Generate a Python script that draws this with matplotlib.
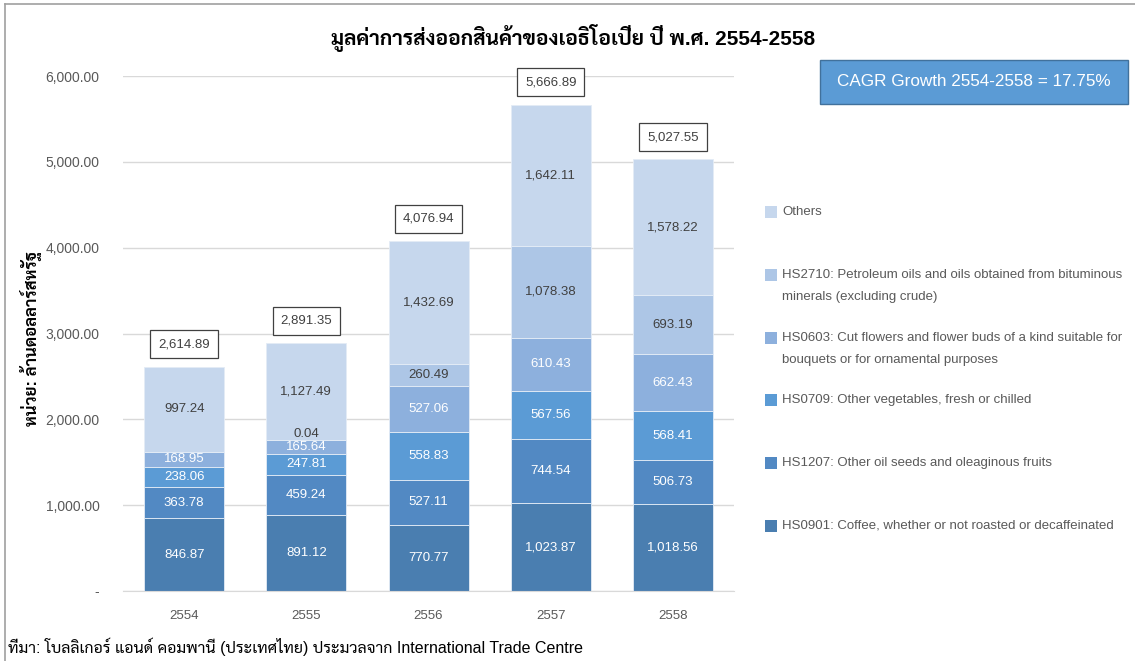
import matplotlib
matplotlib.use('Agg')
import matplotlib.pyplot as plt
from matplotlib.lines import Line2D
from matplotlib.patches import Rectangle
import numpy as np

plt.rcParams['font.family'] = ['Liberation Sans', 'Sarabun', 'Noto Sans Thai Looped', 'DejaVu Sans']

years = ['2554', '2555', '2556', '2557', '2558']
hs0901 = [846.87, 891.12, 770.77, 1023.87, 1018.56]
hs1207 = [363.78, 459.24, 527.11, 744.54, 506.73]
hs0709 = [238.06, 247.81, 558.83, 567.56, 568.41]
hs0603 = [168.95, 165.64, 527.06, 610.43, 662.43]
hs2710 = [0.0, 0.04, 260.49, 1078.38, 693.19]
others = [997.24, 1127.49, 1432.69, 1642.11, 1578.22]
totals = [2614.89, 2891.35, 4076.94, 5666.89, 5027.55]

series = [
    ('HS0901: Coffee, whether or not roasted or decaffeinated', hs0901, '#4a7eb0', 'white'),
    ('HS1207: Other oil seeds and oleaginous fruits', hs1207, '#5289c3', 'white'),
    ('HS0709: Other vegetables, fresh or chilled', hs0709, '#5b9bd5', 'white'),
    ('HS0603: Cut flowers and flower buds of a kind suitable for\nbouquets or for ornamental purposes', hs0603, '#8db0dd', 'white'),
    ('HS2710: Petroleum oils and oils obtained from bituminous\nminerals (excluding crude)', hs2710, '#adc6e6', '#404040'),
    ('Others', others, '#c6d7ed', '#404040'),
]

title = 'มูลค่าการส่งออกสินค้าของเอธิโอเปีย ปี พ.ศ. 2554-2558'
ylabel = 'หน่วย: ล้านดอลลาร์สหรัฐ'
source = 'ที่มา: โบลลิเกอร์ แอนด์ คอมพานี (ประเทศไทย) ประมวลจาก International Trade Centre'
cagr = 'CAGR Growth 2554-2558 = 17.75%'

fig = plt.figure(figsize=(11.35, 6.61), dpi=100)
ax = fig.add_axes([0.1084, 0.1059, 0.5383, 0.7791])

x = np.arange(len(years))
bottom = np.zeros(len(years))
for name, vals, color, tcolor in series:
    vals = np.array(vals)
    ax.bar(x, vals, 0.655, bottom=bottom, color=color, edgecolor='#e4ecf6', linewidth=0.6, zorder=2)
    for xi, v, b in zip(x, vals, bottom):
        if v <= 0:
            continue
        # tiny segment: nudge its label up so it does not sit on the one below
        dy = 4 if v < 50 else 0
        ax.annotate(f'{v:,.2f}', (xi, b + v / 2), xytext=(0, dy), textcoords='offset points',
                    ha='center', va='center', color=tcolor, fontsize=9.5, zorder=3)
    bottom += vals

for xi, t in zip(x, totals):
    ax.annotate(f'{t:,.2f}', (xi, t), xytext=(0, 16), textcoords='offset points',
                ha='center', va='center', fontsize=9.5, color='#404040',
                bbox=dict(boxstyle='square,pad=0.6', fc='white', ec='#404040', lw=0.9))

ax.set_xlim(-0.5, 4.5)
ax.set_ylim(0, 6000)
ax.set_yticks(np.arange(0, 6001, 1000))
ax.set_yticklabels(['-'] + [f'{v:,.2f}' for v in np.arange(1000, 6001, 1000)])
ax.set_xticks(x)
ax.set_xticklabels(years)
ax.tick_params(axis='y', length=0, pad=17, labelsize=10, labelcolor='#595959')
ax.tick_params(axis='x', length=0, pad=14, labelsize=9.5, labelcolor='#595959')
ax.grid(axis='y', color='#d9d9d9', linewidth=1, zorder=0)
for s in ['top', 'right', 'left']:
    ax.spines[s].set_visible(False)
ax.spines['bottom'].set_color('#d9d9d9')
ax.set_axisbelow(True)

fig.text(0.505, 0.943, title, ha='center', va='center', fontsize=15, fontweight='bold')
fig.text(0.027, 0.488, ylabel, ha='center', va='center', rotation=90, fontsize=12, fontweight='bold')
fig.text(0.007, 0.021, source, ha='left', va='center', fontsize=11.5)

# CAGR box
fig.patches.append(Rectangle((0.7225, 0.843), 0.271, 0.066, transform=fig.transFigure,
                             facecolor='#5b9bd5', edgecolor='#41719c', linewidth=1))
fig.text(0.858, 0.876, cagr, ha='center', va='center', fontsize=12.3, color='white')

# legend
leg_y = [212, 275, 338, 400, 463, 526]
for (name, vals, color, tcolor), py in zip(series[::-1], leg_y):
    yf = 1 - py / 661
    fig.patches.append(Rectangle((765 / 1135, yf - 6 / 661), 12 / 1135, 12 / 661,
                                 transform=fig.transFigure, facecolor=color, edgecolor='none'))
    fig.text(782 / 1135, yf + 6 / 661, name, ha='left', va='top', fontsize=9.5,
             color='#595959', linespacing=2.1)

# outer frame (left and top)
fig.lines.append(Line2D([0.004, 0.004], [0, 0.994], transform=fig.transFigure, color='#a0a0a0', lw=1.2))
fig.lines.append(Line2D([0.004, 1], [0.994, 0.994], transform=fig.transFigure, color='#a0a0a0', lw=1.2))

fig.savefig('out.png', dpi=100)
